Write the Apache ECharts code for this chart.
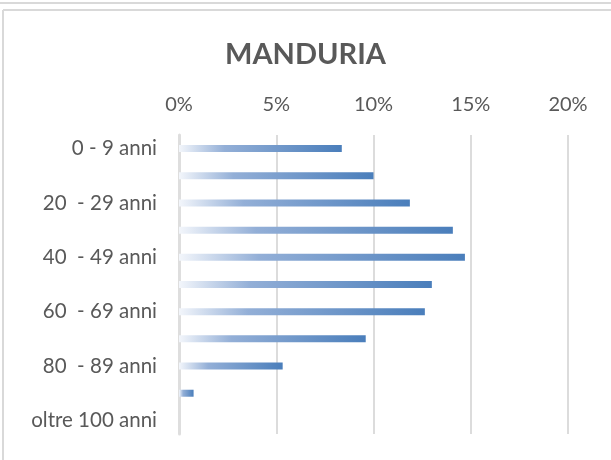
<html lang="it">
<head>
    <meta charset="UTF-8">
    <title>Manduria</title>
    <style>
        html, body {
            margin: 0;
            width: 100%;
            height: 100%;
            background: #ffffff;
            overflow: hidden;
        }

        #container {
            width: 611px;
            height: 460px;
        }
    </style>
</head>
<body>
<div id="container"></div>
</body>
<script type="text/javascript" src="https://cdn.jsdelivr.net/npm/echarts@6/dist/echarts.min.js"></script>
<script>
    // fasce d'età (una etichetta sì e una no viene mostrata)
    var categories = ['0 - 9 anni', '10  - 19 anni', '20  - 29 anni', '30  - 39 anni', '40  - 49 anni',
        '50  - 59 anni', '60  - 69 anni', '70  - 79 anni', '80  - 89 anni', '90  - 99 anni', 'oltre 100 anni'];
    // percentuale di popolazione per fascia
    var values = [8.37, 10.0, 11.87, 14.08, 14.7, 13.0, 12.64, 9.6, 5.33, 0.75, 0];
    var ticks = [0, 5, 10, 15, 20];

    var myCharts = echarts.init(document.getElementById("container"));
    var font = 'Lato, "Open Sans", sans-serif';
    var option = {
        animation: false,
        title: {
            text: 'MANDURIA',
            left: 'center',
            top: 35,
            textStyle: {
                fontFamily: font,
                fontSize: 29,
                fontWeight: 'bold',
                color: '#595959'
            }
        },
        graphic: [
            {type: 'line', shape: {x1: 0, y1: 3, x2: 611, y2: 3}, style: {stroke: '#d9d9d9', lineWidth: 2}},
            {type: 'line', shape: {x1: 3, y1: 10, x2: 611, y2: 10}, style: {stroke: '#d9d9d9', lineWidth: 2}},
            {type: 'line', shape: {x1: 3, y1: 10, x2: 3, y2: 460}, style: {stroke: '#d9d9d9', lineWidth: 2}}
        ],
        grid: {
            left: 179,
            right: 43,
            top: 135,
            bottom: 26
        },
        xAxis: {
            type: 'value',
            position: 'top',
            min: ticks[0],
            max: ticks[ticks.length - 1],
            interval: ticks[1] - ticks[0],
            axisLine: {show: false},
            axisTick: {show: false},
            axisLabel: {
                formatter: '{value}%',
                margin: 20,
                fontFamily: font,
                fontSize: 20,
                color: '#595959'
            },
            splitLine: {lineStyle: {color: '#d0d0d0', width: 1.5}}
        },
        yAxis: {
            type: 'category',
            inverse: true,
            data: categories,
            axisLine: {show: true, lineStyle: {color: '#dedede', width: 3}},
            axisTick: {show: false},
            axisLabel: {
                interval: 1,
                margin: 22,
                fontFamily: font,
                fontSize: 20.5,
                color: '#595959'
            },
            splitLine: {show: false}
        },
        series: [
            {
                type: 'bar',
                barWidth: 7,
                data: values,
                itemStyle: {
                    color: new echarts.graphic.LinearGradient(0, 0, 1, 0, [
                        {offset: 0, color: '#f3f6fb'},
                        {offset: 0.28, color: '#93afd7'},
                        {offset: 1, color: '#4a7ebb'}
                    ])
                }
            }
        ]
    };

    myCharts.setOption(option);
</script>
</html>
